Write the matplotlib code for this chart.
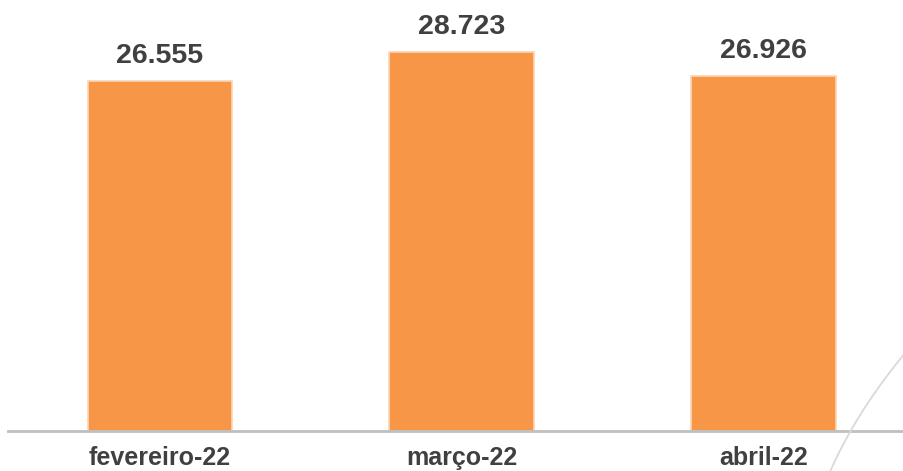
import numpy as np
import matplotlib.pyplot as plt
from matplotlib.lines import Line2D

plt.rcParams["font.family"] = ["Liberation Sans", "DejaVu Sans"]

# Dados
meses = ["fevereiro-22", "março-22", "abril-22"]
valores = [26.555, 28.723, 26.926]
rotulos = ["26.555", "28.723", "26.926"]

fig = plt.figure(figsize=(9.04, 4.71), dpi=100)
ax = fig.add_axes([8 / 904, (471 - 431) / 471, 896 / 904, 431 / 471])

x = np.arange(len(meses))
barras = ax.bar(x, valores, width=0.48, color="#F79646", edgecolor="#FBD5B5", linewidth=1.2)

for b, r in zip(barras, rotulos):
    ax.annotate(r, xy=(b.get_x() + b.get_width() / 2, b.get_height()),
                xytext=(0, 8.5), textcoords="offset points", ha="center", va="bottom",
                fontsize=20.5, fontweight="bold", color="#404040")

ax.set_xlim(-0.504, 2.466)
ax.set_ylim(0, 32.68)
ax.set_xticks(x)
ax.set_xticklabels(meses, fontsize=18, fontweight="bold", color="#404040")
ax.tick_params(axis="x", length=0, pad=10.5)
ax.set_yticks([])
for s in ["top", "right", "left"]:
    ax.spines[s].set_visible(False)
ax.spines["bottom"].set_color("#BFBFBF")
ax.spines["bottom"].set_linewidth(2)

# linha decorativa curva no canto (pixels da figura)
cy = [472, 430, 397, 357, 340]
cx = [830, 851, 872, 902, 916]
coef = np.polyfit(cy, cx, 2)
yy = np.linspace(475, 340, 40)
xx = np.polyval(coef, yy)
fig.add_artist(Line2D(xx / 904, 1 - yy / 471, color="#D9D9D9", linewidth=1.3))

fig.savefig("out.png", dpi=100)
